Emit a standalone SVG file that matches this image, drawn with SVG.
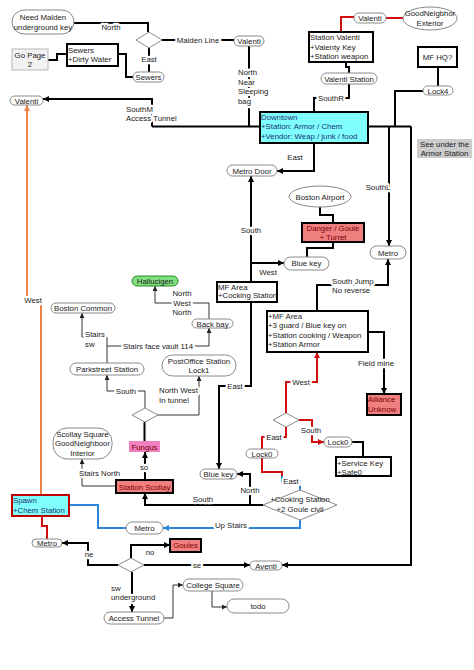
<svg xmlns="http://www.w3.org/2000/svg" width="474" height="670" viewBox="0 0 474 670">
<style>
text{font-family:"Liberation Sans",Arial,sans-serif;font-size:7.8px;fill:#1a1a1a}
.c{text-anchor:middle}
.lbl{stroke:#fff;stroke-width:4.5px;paint-order:stroke;stroke-linejoin:round}
.dk{fill:#1a2f6f}
.rd{fill:#7a0000}
.ell{fill:#fff;stroke:#8a8a8a;stroke-width:1}
.box{stroke:#000;stroke-width:2}
.wb{fill:#fff}
.red{fill:#f08080}
.cy{fill:#80ffff}
.k{fill:none;stroke:#000;stroke-width:2}
.thin{fill:none;stroke:#333;stroke-width:1}
.r{fill:none;stroke:#d01010;stroke-width:2}
.b{fill:none;stroke:#2a84d8;stroke-width:2}
.o{fill:none;stroke:#f0804a;stroke-width:2}
</style>
<defs>
<marker id="ak" viewBox="0 0 6 6" refX="6" refY="3" markerWidth="6" markerHeight="6" markerUnits="userSpaceOnUse" orient="auto"><path d="M0,0 L6,3 L0,6 z" fill="#000"/></marker>
<marker id="at" viewBox="0 0 6 6" refX="6" refY="3" markerWidth="5" markerHeight="5" markerUnits="userSpaceOnUse" orient="auto"><path d="M0,0 L6,3 L0,6 z" fill="#222"/></marker>
<marker id="ar" viewBox="0 0 6 6" refX="6" refY="3" markerWidth="6" markerHeight="6" markerUnits="userSpaceOnUse" orient="auto"><path d="M0,0 L6,3 L0,6 z" fill="#d01010"/></marker>
<marker id="abl" viewBox="0 0 6 6" refX="6" refY="3" markerWidth="6" markerHeight="6" markerUnits="userSpaceOnUse" orient="auto"><path d="M0,0 L6,3 L0,6 z" fill="#2a84d8"/></marker>
<marker id="ao" viewBox="0 0 6 6" refX="6" refY="3" markerWidth="6" markerHeight="6" markerUnits="userSpaceOnUse" orient="auto"><path d="M0,0 L6,3 L0,6 z" fill="#f0804a"/></marker>
</defs>
<rect width="474" height="670" fill="#fff"/>

<g id="connectors">
<path class="k" d="M74,23 H148 V32"/>
<path class="k" d="M162,40 H234"/>
<path class="k" d="M149,48 V72"/>
<path class="k" d="M118,54 H126 V77 H133"/>
<path class="k" d="M48,60 H57 V54 H67"/>
<path class="k" d="M152,126.5 V99 H43" marker-end="url(#ak)"/>
<path class="k" d="M152,126.5 H411"/>
<path class="k" d="M249,46 V126.5"/>
<path class="k" d="M349,84 V98 H314 V112"/>
<path class="k" d="M346,62 V67 H349 V73"/>
<path class="r" d="M341,32 V17 H354"/>
<path class="r" d="M386,18 H403"/>
<path class="k" d="M438,67 V86"/>
<path class="k" d="M423,91 H395 V126.5"/>
<path class="k" d="M389,126.5 V246" marker-end="url(#ak)"/>
<path class="k" d="M411,126.5 V565 H282" marker-end="url(#ak)"/>
<path class="k" d="M314,143 V171 H277" marker-end="url(#ak)"/>
<path class="k" d="M251,282 V176" marker-end="url(#ak)"/>
<path class="k" d="M251,263 H284" marker-end="url(#ak)"/>
<path class="k" d="M320,207 V215 H333 V223"/>
<path class="k" d="M333,242 V248 H307 V257"/>
<path class="k" d="M317,311 V285 H388 V259" marker-end="url(#ak)"/>
<path class="k" d="M368,332 H384 V394" marker-end="url(#ak)"/>
<path class="r" d="M286,413 V382 H317 V352" marker-end="url(#ar)"/>
<path class="r" d="M299,420 H312 V442 H324" marker-end="url(#ar)"/>
<path class="r" d="M286,427 V437 H262 V449"/>
<path class="k" d="M352,442 H363 V457"/>
<path class="r" d="M262,458 V472 H282 V476"/>
<path class="b" d="M282,476 V481 H300 V490"/>
<path class="k" d="M250,505 V474 H237" marker-end="url(#ak)"/>
<path class="k" d="M263,505 H145 V493" marker-end="url(#ak)"/>
<path class="b" d="M300,520 V528 H163" marker-end="url(#abl)"/>
<path class="b" d="M69,505 H98 V528 H126"/>
<path class="r" d="M42,516 V526 H47 V539"/>
<path class="o" d="M41,495 V300 H27 V105" marker-end="url(#ao)"/>
<path class="k" d="M251,302 V386 H219 V469" marker-end="url(#ak)"/>
<path class="k" d="M145,480 V452" marker-end="url(#ak)"/>
<path class="k" d="M144.5,441 V422"/>
<path class="thin" d="M145,408 V391 H107 V375" marker-end="url(#at)"/>
<path class="thin" d="M158,415 H199 V376" marker-end="url(#at)"/>
<path class="thin" d="M107,363 V346 H209 V328" marker-end="url(#at)"/>
<path class="thin" d="M107,346 V337 H82 V313" marker-end="url(#at)"/>
<path class="thin" d="M209,319 V303 H155 V286" marker-end="url(#at)"/>
<path class="thin" d="M116,486 H82 V459" marker-end="url(#at)"/>
<path class="k" d="M131,558 V545 H170" marker-end="url(#ak)"/>
<path class="k" d="M118,565 H88 V543 H62" marker-end="url(#ak)"/>
<path class="k" d="M144,565 H250" marker-end="url(#ak)"/>
<path class="k" d="M132,572 V612" marker-end="url(#ak)"/>
<path class="thin" d="M164,618 H173 V585 H183" marker-end="url(#at)"/>
<path class="thin" d="M212,591 V607 H227" marker-end="url(#at)"/>
</g>

<g id="labels">
<text class="c lbl" x="111" y="30">North</text>
<text class="c lbl" x="198" y="43">Malden Line</text>
<text class="c lbl" x="149" y="62">East</text>
<text class="lbl" x="126" y="112">SouthM</text>
<text class="lbl" x="126" y="121">Access Tunnel</text>
<text class="lbl" x="238" y="75">North</text>
<text class="lbl" x="238" y="85">Near</text>
<text class="lbl" x="238" y="94">Sleeping</text>
<text class="lbl" x="238" y="104">bag</text>
<text class="c lbl" x="331" y="101">SouthR</text>
<text class="c lbl" x="378" y="190">SouthL</text>
<text class="c lbl" x="295" y="160">East</text>
<text class="c lbl" x="251" y="233">South</text>
<text class="c lbl" x="268" y="275">West</text>
<text class="lbl" x="332" y="284">South Jump</text>
<text class="lbl" x="332" y="293">No reverse</text>
<text class="c lbl" x="376" y="366">Field mine</text>
<text class="c lbl" x="301" y="385">West</text>
<text class="c lbl" x="311" y="433">South</text>
<text class="c lbl" x="274" y="440">East</text>
<text class="c lbl" x="291" y="484">East</text>
<text class="c lbl" x="250" y="493">North</text>
<text class="c lbl" x="203" y="502">South</text>
<text class="c lbl" x="231" y="528">Up Stairs</text>
<text class="c lbl" x="33" y="303">West</text>
<text class="c lbl" x="235" y="389">East</text>
<text class="c lbl" x="144" y="470">so</text>
<text class="c lbl" x="126" y="394">South</text>
<text class="lbl" x="159" y="393">North West</text>
<text class="lbl" x="159" y="403">In tunnel</text>
<text class="c lbl" x="158" y="349">Stairs face vault 114</text>
<text class="lbl" x="85" y="337">Stairs</text>
<text class="lbl" x="85" y="347">sw</text>
<text class="c lbl" x="182" y="296">North</text>
<text class="c lbl" x="182" y="305.5">West</text>
<text class="c lbl" x="182" y="315">North</text>
<text class="lbl" x="79" y="476">Stairs North</text>
<text class="c lbl" x="150" y="555">no</text>
<text class="c lbl" x="89" y="557">ne</text>
<text class="c lbl" x="197" y="568">se</text>
<text class="lbl" x="111" y="591">sw</text>
<text class="lbl" x="111" y="600">underground</text>
</g>

<g id="need-malden"><rect class="ell" x="12" y="10" width="62" height="24" rx="12"/><text class="c" x="43" y="20">Need Malden</text><text class="c" x="43" y="30">underground key</text></g>
<g id="diamond-top"><polygon class="ell" points="149,32 162,40 149,48 136,40"/></g>
<g id="valenti-top"><rect class="ell" x="234" y="36" width="30" height="10" rx="5"/><text class="c" x="249" y="44">Valenti</text></g>
<g id="sewers-node"><rect class="ell" x="133" y="72" width="31" height="10" rx="5"/><text class="c" x="148.5" y="80">Sewers</text></g>
<g id="sewers-box"><rect class="box wb" x="67" y="44" width="51" height="22"/><text x="68" y="52.5">Sewers</text><text x="68" y="62">+Dirty Water</text></g>
<g id="go-page"><rect x="12" y="49" width="36" height="21" fill="#f2f2f2" stroke="#b5b5b5"/><text class="c" x="30" y="58">Go Page</text><text class="c" x="30" y="67">2</text></g>
<g id="valenti-left"><rect class="ell" x="10" y="96" width="33" height="9" rx="4.5"/><text class="c" x="26.5" y="103.5">Valenti</text></g>
<g id="station-valenti"><rect class="box wb" x="309" y="32" width="64" height="30"/><text x="310" y="40">Station Valenti</text><text x="310" y="49.5">+Valenty Key</text><text x="310" y="59">+Station weapon</text></g>
<g id="valenti-tr"><rect class="ell" x="354" y="13" width="32" height="10" rx="5"/><text class="c" x="370" y="21">Valenti</text></g>
<g id="goodneigbhor"><ellipse class="ell" cx="430" cy="18.5" rx="27" ry="11.5"/><text class="c" x="430" y="16">GoodNeigbhor</text><text class="c" x="430" y="26">Exterior</text></g>
<g id="valenti-station"><rect class="ell" x="321" y="73" width="56" height="11" rx="5.5"/><text class="c" x="349" y="81.5">Valenti Station</text></g>
<g id="mf-hq"><rect class="box wb" x="418" y="47" width="39" height="20"/><text class="c" x="437.5" y="60">MF HQ?</text></g>
<g id="lock4"><rect class="ell" x="423" y="86" width="30" height="9" rx="4.5"/><text class="c" x="438" y="93.5">Lock4</text></g>
<g id="see-under"><rect x="417" y="139" width="55" height="19" fill="#cccccc"/><text class="c" x="444.5" y="147">See under the</text><text class="c" x="444.5" y="156">Armor Station</text></g>
<g id="downtown"><rect class="box cy" x="260" y="112" width="108" height="31"/><text class="dk" x="261" y="120">Downtown</text><text class="dk" x="261" y="129">+Station: Armor / Chem</text><text class="dk" x="261" y="138.5">+Vendor: Weap / junk / food</text></g>
<g id="metro-door"><rect class="ell" x="227" y="165" width="50" height="11" rx="5.5"/><text class="c" x="252" y="173.5">Metro Door</text></g>
<g id="boston-airport"><ellipse class="ell" cx="320" cy="196.5" rx="31" ry="10.5"/><text class="c" x="320" y="199.5">Boston Airport</text></g>
<g id="danger"><rect class="box red" x="302" y="223" width="62" height="19"/><text class="c rd" x="333" y="230.5">Danger / Goule</text><text class="c rd" x="333" y="239.5">+ Turret</text></g>
<g id="blue-key-1"><rect class="ell" x="284" y="257" width="45" height="13" rx="6.5"/><text class="c" x="306.5" y="266">Blue key</text></g>
<g id="metro-right"><rect class="ell" x="370" y="246" width="36" height="13" rx="6.5"/><text class="c" x="388" y="255.5">Metro</text></g>
<g id="mf-cocking"><rect class="box wb" x="217" y="282" width="60" height="20"/><text x="218" y="289.5">MF Area</text><text x="218" y="298">+Cocking Station</text></g>
<g id="hallucigen"><rect x="132" y="276" width="46" height="10" rx="5" fill="#80e080" stroke="#2a8a2a"/><text class="c" x="155" y="283.5">Hallucigen</text></g>
<g id="boston-common"><rect class="ell" x="51" y="303" width="64" height="10" rx="5"/><text class="c" x="83" y="311">Boston Common</text></g>
<g id="back-bay"><rect class="ell" x="192" y="319" width="41" height="9" rx="4.5"/><text class="c" x="212.5" y="326.5">Back bay</text></g>
<g id="mf-area"><rect class="box wb" x="267" y="311" width="101" height="41"/><text x="268" y="319">+MF Area</text><text x="268" y="328">+3 guard / Blue key on</text><text x="268" y="337.5">+Station cooking / Weapon</text><text x="268" y="347">+Station Armor</text></g>
<g id="parkstreet"><rect class="ell" x="70" y="363" width="74" height="12" rx="6"/><text class="c" x="107" y="372">Parkstreet Station</text></g>
<g id="postoffice"><rect class="ell" x="162" y="355" width="74" height="21" rx="10.5"/><text class="c" x="199" y="363.5">PostOffice Station</text><text class="c" x="199" y="372.5">Lock1</text></g>
<g id="diamond-mid"><polygon class="ell" points="145,408 158,415 145,422 132,415"/></g>
<g id="alliance"><rect class="box red" x="367" y="394" width="34" height="21"/><text class="rd" x="368" y="402">Alliance</text><text class="rd" x="368" y="411.5">Unknow</text></g>
<g id="diamond-small"><polygon class="ell" points="286,413 299,420 286,427 273,420"/></g>
<g id="lock0-right"><rect class="ell" x="324" y="437" width="28" height="10" rx="5"/><text class="c" x="338" y="445">Lock0</text></g>
<g id="lock0-left"><rect class="ell" x="246" y="449" width="32" height="9" rx="4.5"/><text class="c" x="262" y="456.5">Lock0</text></g>
<g id="service-key"><rect class="box wb" x="336" y="457" width="55" height="19"/><text x="337" y="466">+Service Key</text><text x="337" y="474.5">+Safe0</text></g>
<g id="scollay-square"><rect class="ell" x="53" y="428" width="59" height="31" rx="14"/><text class="c" x="82.5" y="437">Scollay Square</text><text class="c" x="82.5" y="446">GoodNeighboor</text><text class="c" x="82.5" y="455.5">Interior</text></g>
<g id="fungus"><rect x="129" y="441" width="31" height="11" fill="#f080c0"/><text class="c rd" x="144.5" y="449.5">Fungus</text></g>
<g id="blue-key-2"><rect class="ell" x="200" y="469" width="37" height="10" rx="5"/><text class="c" x="218.5" y="477">Blue key</text></g>
<g id="station-scollay"><rect class="box red" x="116" y="480" width="57" height="13"/><text class="c rd" x="144.5" y="489.5">Station Scollay</text></g>
<g id="cooking-diamond"><polygon class="ell" points="300,490 337,505 300,520 263,505"/><text class="c" x="300" y="502">+Cooking Station</text><text class="c" x="300" y="511.5">+2 Goule civil</text></g>
<g id="spawn"><rect class="cy" x="12" y="495" width="57" height="21" stroke="#c00000" stroke-width="2"/><text class="dk" x="13" y="503">Spawn</text><text class="dk" x="13" y="512.5">+Chem Station</text></g>
<g id="metro-blue"><rect class="ell" x="126" y="522" width="37" height="12" rx="6"/><text class="c" x="144.5" y="530.5">Metro</text></g>
<g id="metro-left"><rect class="ell" x="32" y="539" width="30" height="8" rx="4"/><text class="c" x="47" y="546">Metro</text></g>
<g id="goules"><rect class="box red" x="170" y="539" width="31" height="13"/><text class="c rd" x="185.5" y="548">Goules</text></g>
<g id="diamond-bottom"><polygon class="ell" points="131,558 144,565 131,572 118,565"/></g>
<g id="aventi"><rect class="ell" x="250" y="561" width="32" height="9" rx="4.5"/><text class="c" x="266" y="568.5">Aventi</text></g>
<g id="college-square"><rect class="ell" x="183" y="579" width="60" height="12" rx="6"/><text class="c" x="213" y="588">College Square</text></g>
<g id="access-tunnel"><rect class="ell" x="104" y="612" width="60" height="12" rx="6"/><text class="c" x="134" y="621">Access Tunnel</text></g>
<g id="todo"><rect class="ell" x="227" y="599" width="62" height="14" rx="7"/><text class="c" x="258" y="608.5">todo</text></g>
</svg>
